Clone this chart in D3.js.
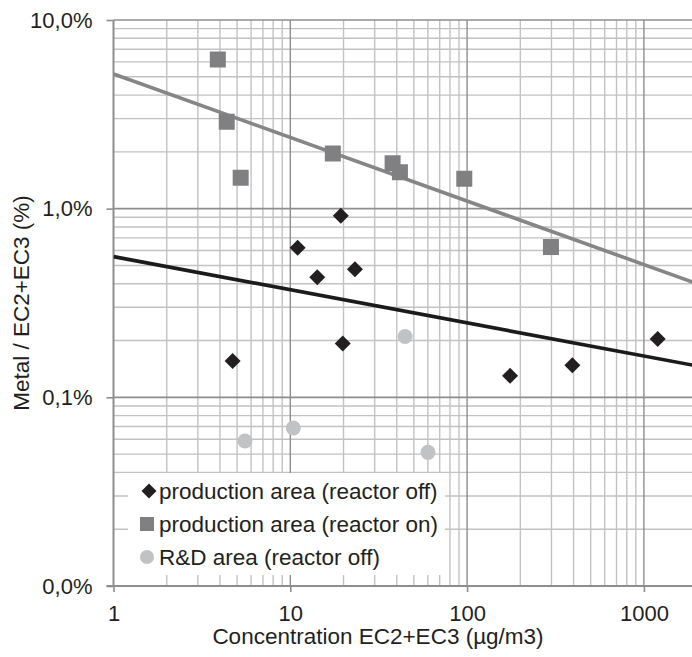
<!DOCTYPE html>
<html>
<head>
<meta charset="utf-8">
<script src="https://cdn.jsdelivr.net/npm/d3@7"></script>
<style>
  html, body { margin: 0; padding: 0; background: #fff; }
  svg { display: block; font-family: "Liberation Sans", Arial, sans-serif; }
</style>
</head>
<body>
<svg id="chart" width="692" height="657"></svg>
<script>
// ---- Data ----
const seriesNames = ["production area (reactor off)", "production area (reactor on)", "R&D area (reactor off)"];

// production area (reactor off) — black diamonds
const offX = [4.72, 11.0, 14.2, 19.3, 23.2, 19.8, 175, 394, 1197];
const offY = [0.156, 0.621, 0.433, 0.917, 0.477, 0.193, 0.130, 0.148, 0.204];

// production area (reactor on) — grey squares
const onX = [3.89, 4.37, 5.24, 17.4, 37.9, 41.7, 96.4, 298];
const onY = [6.18, 2.89, 1.46, 1.96, 1.74, 1.56, 1.44, 0.626];

// R&D area (reactor off) — light grey circles
const rdX = [5.54, 10.4, 44.6, 60.1];
const rdY = [0.0587, 0.0688, 0.210, 0.0511];

// Power trend lines (endpoints)
const trendOnX = [1, 2000];
const trendOnY = [5.18, 0.400];
const trendOffX = [1, 2000];
const trendOffY = [0.557, 0.1466];

// Axis ticks
const xTickValues = [1, 10, 100, 1000];
const xTickLabels = ["1", "10", "100", "1000"];
const yTickValues = [0.01, 0.1, 1, 10];
const yTickLabels = ["0,0%", "0,1%", "1,0%", "10,0%"];

const xTitle = "Concentration EC2+EC3 (µg/m3)";
const yTitle = "Metal / EC2+EC3 (%)";

(function () {
// ---- Layout ----
const W = 692, H = 657;
const pLeft = 113.5, pTop = 20, pBottom = 586, decadeX = 176.8;
const svg = d3.select("#chart");
svg.append("rect").attr("width", W).attr("height", H).attr("fill", "#fff");

const x = d3.scaleLog().domain([1, 10000]).range([pLeft, pLeft + 4 * decadeX]);
const y = d3.scaleLog().domain([0.01, 10]).range([pBottom, pTop]);

const minorCol = "#c2c2c2", majorCol = "#8e8e8e";

svg.append("clipPath").attr("id", "plot")
  .append("rect").attr("x", pLeft).attr("y", pTop - 2).attr("width", W - pLeft).attr("height", pBottom - pTop + 4);

const grid = svg.append("g").attr("clip-path", "url(#plot)");

// minor gridlines
const minorX = [], minorY = [];
for (let k = 0; k < 4; k++) for (let m = 2; m <= 9; m++) minorX.push(m * Math.pow(10, k));
for (let k = -2; k < 1; k++) for (let m = 2; m <= 9; m++) minorY.push(m * Math.pow(10, k));

grid.selectAll(".mx").data(minorX).enter().append("line")
  .attr("x1", d => x(d)).attr("x2", d => x(d)).attr("y1", pTop).attr("y2", pBottom)
  .attr("stroke", minorCol).attr("stroke-width", 1.4);
grid.selectAll(".my").data(minorY).enter().append("line")
  .attr("x1", pLeft).attr("x2", W).attr("y1", d => y(d)).attr("y2", d => y(d))
  .attr("stroke", minorCol).attr("stroke-width", 1.4);
// major gridlines
grid.selectAll(".Mx").data([10, 100, 1000]).enter().append("line")
  .attr("x1", d => x(d)).attr("x2", d => x(d)).attr("y1", pTop).attr("y2", pBottom)
  .attr("stroke", majorCol).attr("stroke-width", 1.4);
grid.selectAll(".My").data([0.1, 1, 10]).enter().append("line")
  .attr("x1", pLeft).attr("x2", W).attr("y1", d => y(d)).attr("y2", d => y(d))
  .attr("stroke", majorCol).attr("stroke-width", 1.6);

// Legend background (covers grid)
const legX = 128, legY = 473, legW = 317, legH = 102;
svg.append("rect").attr("x", legX).attr("y", legY).attr("width", legW).attr("height", legH).attr("fill", "#fff");

// Axes
const yAxis = d3.axisLeft(y).tickValues(yTickValues)
  .tickFormat((d, i) => yTickLabels[i]).tickSize(7).tickSizeOuter(0).tickPadding(14);
const gy = svg.append("g").attr("transform", `translate(${pLeft},0)`).call(yAxis);
const xAxis = d3.axisBottom(x).tickValues(xTickValues)
  .tickFormat((d, i) => xTickLabels[i]).tickSize(6).tickSizeOuter(0).tickPadding(13);
const gx = svg.append("g").attr("transform", `translate(0,${pBottom})`).call(xAxis);

[gx, gy].forEach(g => {
  g.select(".domain").attr("stroke", majorCol).attr("stroke-width", 2);
  g.selectAll(".tick line").attr("stroke", majorCol).attr("stroke-width", 1.6);
  g.selectAll(".tick text").attr("fill", "#231f20").style("font-size", "22px")
    .style("font-family", '"Liberation Sans", Arial, sans-serif');
});
gx.select(".domain").attr("d", `M${pLeft - 7},0H${W}`);
gy.select(".domain").attr("d", `M0,${pTop}V${pBottom + 1}`);

// Trend lines
const plot = svg.append("g").attr("clip-path", "url(#plot)");
const line = d3.line().x(d => x(d[0])).y(d => y(d[1]));
plot.append("path").datum(d3.zip(trendOnX, trendOnY)).attr("d", line)
  .attr("fill", "none").attr("stroke", "#868686").attr("stroke-width", 3.6);
plot.append("path").datum(d3.zip(trendOffX, trendOffY)).attr("d", line)
  .attr("fill", "none").attr("stroke", "#1c1a1b").attr("stroke-width", 3.6);

// Markers
plot.selectAll(".on").data(d3.zip(onX, onY)).enter().append("path")
  .attr("d", d3.symbol().type(d3.symbolSquare).size(256)())
  .attr("transform", d => `translate(${x(d[0])},${y(d[1])})`)
  .attr("fill", "#808082");
plot.selectAll(".off").data(d3.zip(offX, offY)).enter().append("path")
  .attr("d", d3.symbol().type(d3.symbolSquare).size(128)())
  .attr("transform", d => `translate(${x(d[0])},${y(d[1])}) rotate(45)`)
  .attr("fill", "#231f20");
plot.selectAll(".rd").data(d3.zip(rdX, rdY)).enter().append("circle")
  .attr("cx", d => x(d[0])).attr("cy", d => y(d[1])).attr("r", 7.5)
  .attr("fill", "#c1c2c4");

// Legend
const legRows = [491, 524, 557];
const lg = svg.append("g");
lg.append("path").attr("d", d3.symbol().type(d3.symbolSquare).size(112)())
  .attr("transform", `translate(149,${legRows[0]}) rotate(45)`).attr("fill", "#231f20");
lg.append("rect").attr("x", 140).attr("y", legRows[1] - 7).attr("width", 14).attr("height", 14).attr("fill", "#808082");
lg.append("circle").attr("cx", 147).attr("cy", legRows[2]).attr("r", 7).attr("fill", "#c1c2c4");
lg.selectAll("text").data(seriesNames).enter().append("text")
  .attr("x", 159).attr("y", (d, i) => legRows[i]).attr("dy", "0.35em")
  .attr("fill", "#231f20").style("font-size", "22.5px").text(d => d);

// Axis titles
svg.append("text").attr("x", 378).attr("y", 644).attr("text-anchor", "middle")
  .attr("fill", "#231f20").style("font-size", "22.5px").text(xTitle);
svg.append("text").attr("transform", `translate(29,303) rotate(-90)`).attr("text-anchor", "middle")
  .attr("fill", "#231f20").style("font-size", "22.5px").text(yTitle);
})();
</script>
</body>
</html>
